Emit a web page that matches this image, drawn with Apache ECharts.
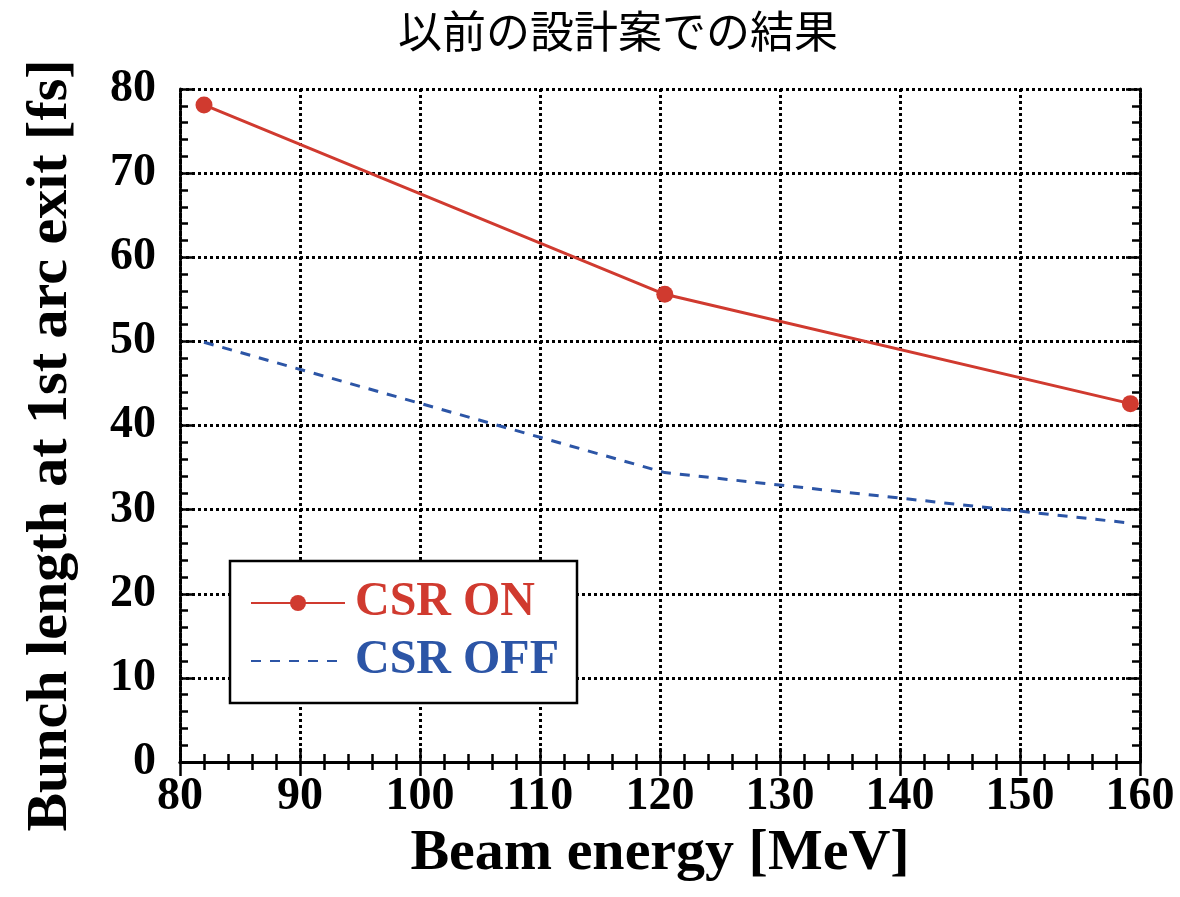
<!DOCTYPE html>
<html>
<head>
<meta charset="utf-8">
<script src="https://cdn.jsdelivr.net/npm/echarts@6/dist/echarts.min.js"></script>
<style>html,body{margin:0;padding:0;background:#fff;}#c{width:1180px;height:897px;}</style>
</head>
<body>
<div id="c"></div>
<script>
const titleText = '以前の設計案での結果';
const xName = 'Beam energy [MeV]';
const yName = 'Bunch length at 1st arc exit [fs]';
const energies = [82, 120.4, 159.2];
const csrOn = [78.1, 55.6, 42.6];
const csrOff = [49.9, 34.4, 28.4];
const seriesNames = ['CSR ON', 'CSR OFF'];

const RED = '#d03a2f';
const BLUE = '#2c55a6';
const SERIF = '"Liberation Serif", "Times New Roman", serif';

const chart = echarts.init(document.getElementById('c'));

const tickCommon = {
  axisTick: { show: true, inside: true, length: 14, lineStyle: { color: '#000', width: 2.5 } },
  minorTick: { show: true, splitNumber: 5, length: 8, lineStyle: { color: '#000', width: 2.5 } }
};
const dotted = { color: '#000', width: 3, type: [3, 3] };

chart.setOption({
  backgroundColor: '#fff',
  animation: false,
  title: {
    text: titleText,
    left: 393,
    top: 4,
    textStyle: { fontFamily: '"Noto Sans CJK JP"', fontWeight: 'normal', fontSize: 44, color: '#000' }
  },
  grid: { left: 180, right: 40, top: 89, bottom: 135 },
  legend: {
    orient: 'vertical',
    left: 230,
    top: 561,
    padding: [18, 18, 18, 20],
    itemGap: 10,
    itemWidth: 94,
    itemHeight: 20,
    backgroundColor: '#fff',
    borderColor: '#000',
    borderWidth: 2.5,
    borderRadius: 0,
    textStyle: { fontFamily: SERIF, fontWeight: 'bold', fontSize: 48, padding: [0, 0, 0, 5] },
    data: [
      { name: seriesNames[0], textStyle: { color: RED } },
      { name: seriesNames[1], textStyle: { color: BLUE }, itemStyle: { opacity: 0 } }
    ]
  },
  xAxis: [
    Object.assign({
      type: 'value', min: 80, max: 160, interval: 10, position: 'bottom',
      name: xName, nameLocation: 'middle', nameGap: 62,
      nameTextStyle: { fontFamily: SERIF, fontWeight: 'bold', fontSize: 58, color: '#000' },
      axisLine: { show: true, lineStyle: { color: '#000', width: 3 } },
      axisLabel: { margin: 12, fontFamily: SERIF, fontWeight: 'bold', fontSize: 46, color: '#000' },
      splitLine: { show: true, lineStyle: dotted }
    }, tickCommon),
    Object.assign({
      type: 'value', min: 80, max: 160, interval: 10, position: 'top',
      axisLine: { show: true, lineStyle: dotted },
      axisLabel: { show: false },
      splitLine: { show: false }
    }, tickCommon)
  ],
  yAxis: [
    Object.assign({
      type: 'value', min: 0, max: 80, interval: 10, position: 'left',
      name: yName, nameLocation: 'middle', nameGap: 100, nameRotate: 90,
      nameTextStyle: { fontFamily: SERIF, fontWeight: 'bold', fontSize: 58, color: '#000', padding: [0, 40, 0, 0] },
      axisLine: { show: true, lineStyle: dotted },
      axisLabel: { margin: 24, fontFamily: SERIF, fontWeight: 'bold', fontSize: 46, color: '#000' },
      splitLine: { show: true, lineStyle: dotted }
    }, tickCommon),
    Object.assign({
      type: 'value', min: 0, max: 80, interval: 10, position: 'right',
      axisLine: { show: true, lineStyle: dotted },
      axisLabel: { show: false },
      splitLine: { show: false }
    }, tickCommon)
  ],
  series: [
    {
      name: seriesNames[0], type: 'line', xAxisIndex: 0, yAxisIndex: 0,
      data: energies.map((e, i) => [e, csrOn[i]]),
      symbol: 'circle', symbolSize: 17,
      itemStyle: { color: RED },
      lineStyle: { color: RED, width: 3 },
      z: 5
    },
    {
      name: seriesNames[1], type: 'line', xAxisIndex: 0, yAxisIndex: 0,
      data: energies.map((e, i) => [e, csrOff[i]]),
      symbol: 'none',
      itemStyle: { color: BLUE },
      lineStyle: { color: BLUE, width: 3, type: [10, 9] },
      z: 4
    }
  ]
});
</script>
</body>
</html>
